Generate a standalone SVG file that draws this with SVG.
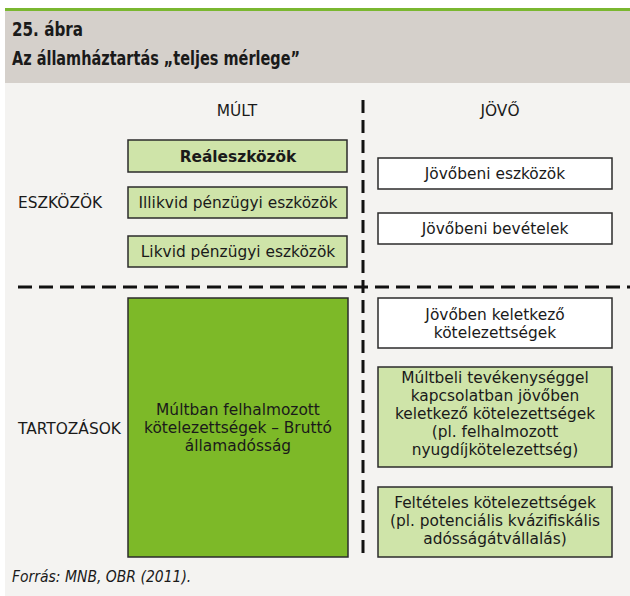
<svg xmlns="http://www.w3.org/2000/svg" width="630" height="596" viewBox="0 0 630 596">
<style>
.t{font-family:"DejaVu Sans","Liberation Sans",sans-serif;font-size:15.4px;fill:#1a1a1a}
.c{text-anchor:middle}
.title{font-family:"DejaVu Sans Condensed","DejaVu Sans",sans-serif;font-stretch:condensed;font-weight:bold;font-size:19px;fill:#1a1a1a}
.foot{font-family:"DejaVu Sans Condensed","DejaVu Sans",sans-serif;font-stretch:condensed;font-style:italic;font-size:15.5px;fill:#1a1a1a}
.lg{fill:#cfe4a9;stroke:#2b2b2b;stroke-width:1.5}
.wh{fill:#ffffff;stroke:#2b2b2b;stroke-width:1.5}
.dg{fill:#7db928;stroke:#2b2b2b;stroke-width:1.5}
.dash{stroke:#111;stroke-width:3;fill:none}
</style>
<rect x="0" y="0" width="630" height="596" fill="#ffffff"/>
<rect x="5" y="8" width="625" height="3" fill="#7ab730"/>
<rect x="5" y="11" width="625" height="72" fill="#d5d0cb"/>
<rect x="5" y="83" width="625" height="513" fill="#f4f3f1"/>
<text class="title" x="12" y="36" textLength="71" lengthAdjust="spacingAndGlyphs">25. ábra</text>
<text class="title" x="12" y="65" textLength="288" lengthAdjust="spacingAndGlyphs">Az államháztartás „teljes mérlege”</text>

<g id="connectors">
<line class="dash" x1="363" y1="100" x2="363" y2="557" stroke-dasharray="13,7"/>
<line class="dash" x1="18" y1="287" x2="630" y2="287" stroke-dasharray="14,7"/>
</g>

<text class="t c" x="237" y="116">MÚLT</text>
<text class="t c" x="500" y="116">JÖVŐ</text>
<text class="t" x="18" y="208">ESZKÖZÖK</text>
<text class="t" x="18" y="434">TARTOZÁSOK</text>

<g id="realeszkozok">
<rect class="lg" x="128" y="140" width="219" height="32"/>
<text class="t c" x="238" y="162" font-weight="bold">Reáleszközök</text>
</g>
<g id="illikvid">
<rect class="lg" x="128" y="187" width="219" height="31"/>
<text class="t c" x="238" y="208">Illikvid pénzügyi eszközök</text>
</g>
<g id="likvid">
<rect class="lg" x="128" y="236" width="219" height="31"/>
<text class="t c" x="238" y="257">Likvid pénzügyi eszközök</text>
</g>
<g id="jovobeni-eszkozok">
<rect class="wh" x="378" y="158" width="234" height="31"/>
<text class="t c" x="495" y="179">Jövőbeni eszközök</text>
</g>
<g id="jovobeni-bevetelek">
<rect class="wh" x="378" y="213" width="234" height="31"/>
<text class="t c" x="495" y="234">Jövőbeni bevételek</text>
</g>
<g id="multban">
<rect class="dg" x="128" y="298" width="220" height="259"/>
<text class="t c" x="238" y="415">Múltban felhalmozott</text>
<text class="t c" x="238" y="433">kötelezettségek – Bruttó</text>
<text class="t c" x="238" y="451">államadósság</text>
</g>
<g id="jovoben-keletkezo">
<rect class="wh" x="378" y="298" width="234" height="50"/>
<text class="t c" x="495" y="320">Jövőben keletkező</text>
<text class="t c" x="495" y="338">kötelezettségek</text>
</g>
<g id="multbeli">
<rect class="lg" x="378" y="367" width="234" height="100"/>
<text class="t c" x="495" y="383">Múltbeli tevékenységgel</text>
<text class="t c" x="495" y="401">kapcsolatban jövőben</text>
<text class="t c" x="495" y="419">keletkező kötelezettségek</text>
<text class="t c" x="495" y="437">(pl. felhalmozott</text>
<text class="t c" x="495" y="455">nyugdíjkötelezettség)</text>
</g>
<g id="felteteles">
<rect class="lg" x="378" y="487" width="234" height="70"/>
<text class="t c" x="495" y="508">Feltételes kötelezettségek</text>
<text class="t c" x="495" y="526">(pl. potenciális kvázifiskális</text>
<text class="t c" x="495" y="544">adósságátvállalás)</text>
</g>
<text class="foot" x="12" y="582">Forrás: MNB, OBR (2011).</text>
</svg>
